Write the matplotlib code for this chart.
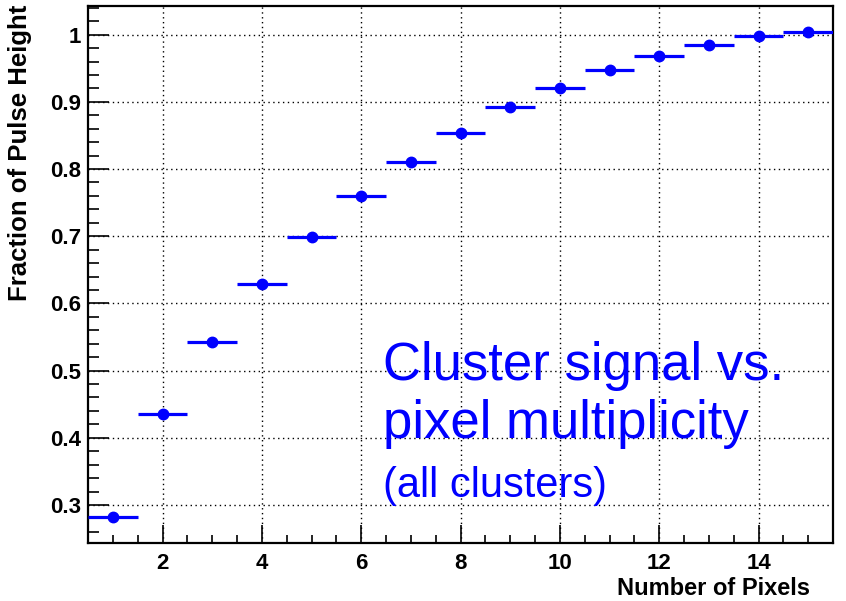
import numpy as np
import matplotlib
matplotlib.use("Agg")
import matplotlib.pyplot as plt
from matplotlib.ticker import MultipleLocator

plt.rcParams["font.family"] = ["Liberation Sans", "DejaVu Sans"]

# data
pixels = np.arange(1, 16)
fraction = [0.282, 0.435, 0.543, 0.629, 0.699, 0.760, 0.810, 0.854,
            0.892, 0.921, 0.947, 0.969, 0.985, 0.998, 1.004]
bin_half_width = 0.5

x_label = "Number of Pixels"
y_label = "Fraction of Pulse Height"
note_lines = ["Cluster signal vs.", "pixel multiplicity", "(all clusters)"]

fig = plt.figure(figsize=(8.46, 6.01), dpi=100)
ax = fig.add_axes([88 / 846, 58 / 601, (833 - 88) / 846, (595 - 58) / 601])

ax.errorbar(pixels, fraction, xerr=bin_half_width, fmt="o", color="#0000ff",
            ms=7.5, elinewidth=2.3, capsize=0, zorder=3)

ax.set_xlim(0.5, 15.5)
ax.set_ylim(0.2434, 1.0427)

ax.xaxis.set_major_locator(MultipleLocator(2))
ax.xaxis.set_minor_locator(MultipleLocator(0.5))
ax.yaxis.set_major_locator(MultipleLocator(0.1))
ax.yaxis.set_minor_locator(MultipleLocator(0.02))
ax.yaxis.set_major_formatter(plt.FuncFormatter(lambda v, p: f"{v:g}"))

ax.tick_params(which="both", direction="in", top=False, right=False,
               width=1.2, labelsize=16)
ax.tick_params(axis="x", which="major", length=13, pad=7)
ax.tick_params(axis="x", which="minor", length=6)
ax.tick_params(axis="y", which="major", length=15, pad=5)
ax.tick_params(axis="y", which="minor", length=8)
for lab in ax.get_xticklabels() + ax.get_yticklabels():
    lab.set_fontweight("bold")

ax.grid(True, which="major", color="black", linestyle=(0, (1, 2.5)), linewidth=1.0)
ax.set_axisbelow(True)
for s in ax.spines.values():
    s.set_linewidth(1.6)

fig.text(810 / 846, 6 / 601, x_label, ha="right", va="baseline",
         fontsize=17, fontweight="bold")
fig.text(20 / 846, 1 - 5 / 601, y_label, ha="center", va="top", rotation=90,
         fontsize=18.5, fontweight="bold")

fig.text(383 / 846, 1 - 380 / 601, note_lines[0], color="#0000ff",
         fontsize=38, ha="left", va="baseline")
fig.text(383 / 846, 1 - 438 / 601, note_lines[1], color="#0000ff",
         fontsize=38, ha="left", va="baseline")
fig.text(383 / 846, 1 - 497 / 601, note_lines[2], color="#0000ff",
         fontsize=30, ha="left", va="baseline")

fig.savefig("out.png", dpi=100)
